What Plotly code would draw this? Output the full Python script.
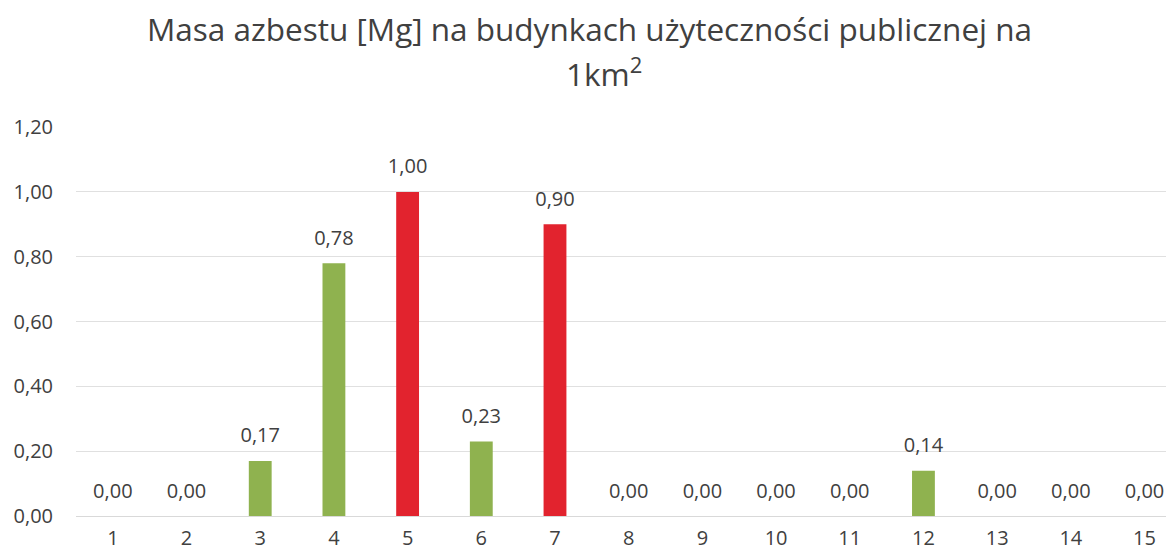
import plotly.graph_objects as go

categories = list(range(1, 16))
values = [0.00, 0.00, 0.17, 0.78, 1.00, 0.23, 0.90, 0.00, 0.00, 0.00, 0.00, 0.14, 0.00, 0.00, 0.00]
highlight = [5, 7]
tick_labels = [str(c) for c in categories]
y_ticks = [0, 0.2, 0.4, 0.6, 0.8, 1.0, 1.2]
title_line1 = "Masa azbestu [Mg] na budynkach użyteczności publicznej na"
title_line2 = "1km<sup>2</sup>"

GREEN = "#8FB24F"
RED = "#E2232E"
TXT = "#404040"
FONT = "Open Sans"
colors = [RED if c in highlight else GREEN for c in categories]

# page body has an 8px default margin; compensate so the figure fills the window
W, H = 1166, 548
L, T, B = 68, 119, 40
PH = H - T - B


def px(xs):
    return (xs - 8 - L) / (W - L)


def py(ys):
    return 1 + (T - (ys - 8)) / PH


fig = go.Figure()
fig.add_trace(go.Bar(
    x=categories, y=values, marker=dict(color=colors, line=dict(width=0)),
    width=0.31, hoverinfo="x+y",
))
fig.add_trace(go.Scatter(
    x=categories, y=values, mode="markers+text",
    marker=dict(size=20, color="rgba(0,0,0,0)"),
    text=[f"{v:.2f}".replace(".", ",") for v in values],
    textposition="top center",
    textfont=dict(family=FONT, size=20, color=TXT),
    cliponaxis=False, hoverinfo="skip",
))

fig.update_layout(
    width=W, height=H,
    paper_bgcolor="white", plot_bgcolor="white",
    separators=", ",
    margin=dict(l=L, r=0, t=T, b=B, autoexpand=False),
    showlegend=False,
    annotations=[
        dict(text=title_line1, xref="paper", yref="paper",
             x=px(589), y=py(29), xanchor="center", yanchor="middle",
             showarrow=False, font=dict(family=FONT, size=31.5, color=TXT)),
        dict(text=title_line2, xref="paper", yref="paper",
             x=px(604), y=py(72), xanchor="center", yanchor="middle",
             showarrow=False, font=dict(family=FONT, size=31.5, color=TXT)),
    ],
)
fig.update_xaxes(
    range=[0.5, 15.4], tickvals=categories, ticktext=tick_labels,
    showgrid=False, zeroline=False, showline=False, automargin=False,
    tickfont=dict(family=FONT, size=20, color=TXT),
    ticklabelstandoff=8,
)
fig.update_yaxes(
    range=[0, 1.2005], tickvals=y_ticks, tickformat=".2f",
    showgrid=True, gridcolor="#E0E0E0", gridwidth=1,
    zeroline=True, zerolinecolor="#D9D9D9", zerolinewidth=1,
    tickfont=dict(family=FONT, size=20, color=TXT),
    ticklabelstandoff=22, automargin=False,
)

fig.write_html("out.html")
